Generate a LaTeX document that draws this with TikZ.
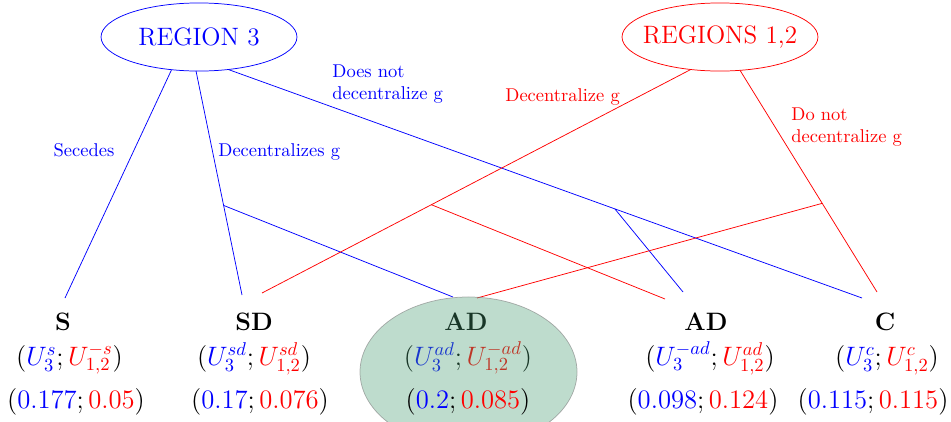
\documentclass[tikz,border=0pt]{standalone}
\usetikzlibrary{shapes.geometric,calc}
\definecolor{adgreen}{RGB}{70,155,112}
\begin{document}
\begin{tikzpicture}[x=0.5405pt,y=-0.5405pt,
  lbl/.style={font=\fontsize{10}{12}\selectfont, inner sep=0pt},
  region/.style={ellipse, draw, inner sep=0pt, outer sep=0pt,
    minimum width=105.9pt, minimum height=36.8pt,
    font=\fontsize{13.6}{16}\selectfont},
  title/.style={font=\fontsize{13.6}{16}\selectfont\bfseries, anchor=base, inner sep=0pt},
  pay/.style={font=\fontsize{13.6}{16}\selectfont, anchor=base, inner sep=0pt},
  b3/.style={blue},
  b12/.style={red}]
\useasboundingbox (0,0) rectangle (951,421);
\clip (0,0) rectangle (951,421);

% players
\node[region, draw=blue, text=blue] (r3) at (199,37) {REGION 3};
\node[region, draw=red, text=red, inner xsep=-5pt] (r12) at (720,37) {REGIONS 1,2};

% ends of the branches above the outcomes
\coordinate (sEnd) at (65,298);
\coordinate (sdEnd3) at (242,295);
\coordinate (sdEnd12) at (262,293);
\coordinate (admEnd3) at (453,297);
\coordinate (admEnd12) at (477,298);
\coordinate (adrEnd12) at (665,299);
\coordinate (adrEnd3) at (683,292);
\coordinate (cEnd3) at (862,298);
\coordinate (cEnd12) at (877,292);

% region 3 choices
\draw[b3] (r3.230.5) -- (sEnd);
\draw[b3] (r3.265) -- (sdEnd3);
\draw[b3] (r3.312.3) -- (cEnd3);
\coordinate (k3a) at ($(r3.265)!0.6!(sdEnd3)$);
\coordinate (k3b) at ($(r3.312.3)!0.61!(cEnd3)$);
\draw[b3] (k3a) -- (admEnd3);
\draw[b3] (k3b) -- (adrEnd3);

% regions 1,2 choices
\draw[b12] (r12.228.7) -- (sdEnd12);
\draw[b12] (r12.301.7) -- (cEnd12);
\coordinate (k12a) at ($(r12.228.7)!0.605!(sdEnd12)$);
\coordinate (k12b) at ($(r12.301.7)!0.6!(cEnd12)$);
\draw[b12] (k12a) -- (adrEnd12);
\draw[b12] (k12b) -- (admEnd12);

% branch labels
\node[lbl, text=blue, anchor=base] (lSec) at (84,156) {Secedes};
\node[lbl, text=blue, anchor=base west] (lDec3) at (218,156) {Decentralizes g};
\node[lbl, text=blue, anchor=north west, align=left] (lNot3) at (332,64) {Does not\\decentralize g};
\node[lbl, text=red, anchor=base west] (lDec12) at (505,101) {Decentralize g};
\node[lbl, text=red, anchor=north west, align=left] (lNot12) at (791,107) {Do not\\decentralize g};

% outcomes
\node[title] (sT) at (63,330) {S};
\node[pay] (sU) at (69.5,365) {$(\textcolor{blue}{U_3^{s}};\textcolor{red}{U_{1,2}^{-s}})$};
\node[pay] (sV) at (76,408) {$(\textcolor{blue}{0.177};\textcolor{red}{0.05})$};

\node[title] (sdT) at (254,330) {SD};
\node[pay] (sdU) at (254,365) {$(\textcolor{blue}{U_3^{sd}};\textcolor{red}{U_{1,2}^{sd}})$};
\node[pay] (sdV) at (260,408) {$(\textcolor{blue}{0.17};\textcolor{red}{0.076})$};

\node[title] (admT) at (466,330) {AD};
\node[pay] (admU) at (468,365) {$(\textcolor{blue}{U_3^{ad}};\textcolor{red}{U_{1,2}^{-ad}})$};
\node[ellipse, inner sep=0pt, minimum width=117.3pt, minimum height=81.1pt,
  fill=adgreen, fill opacity=0.35, draw=gray, draw opacity=0.6] (adm) at (468.5,372) {};
\node[pay] (admV) at (468,408) {$(\textcolor{blue}{0.2};\textcolor{red}{0.085})$};

\node[title] (adrT) at (706,330) {AD};
\node[pay] (adrU) at (710,365) {$(\textcolor{blue}{U_3^{-ad}};\textcolor{red}{U_{1,2}^{ad}})$};
\node[pay] (adrV) at (703,408) {$(\textcolor{blue}{0.098};\textcolor{red}{0.124})$};

\node[title] (cT) at (885,330) {C};
\node[pay] (cU) at (887,365) {$(\textcolor{blue}{U_3^{c}};\textcolor{red}{U_{1,2}^{c}})$};
\node[pay] (cV) at (873,408) {$(\textcolor{blue}{0.115};\textcolor{red}{0.115})$};
\end{tikzpicture}
\end{document}
